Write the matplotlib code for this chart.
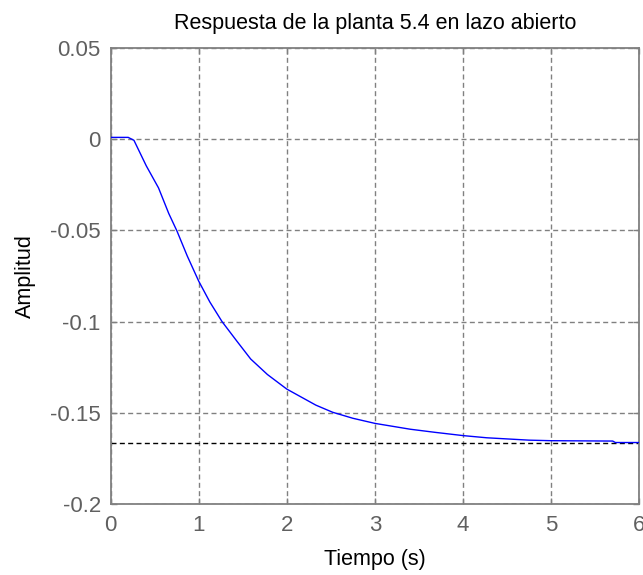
import matplotlib.pyplot as plt

plt.rcParams['font.family'] = ['Liberation Sans', 'DejaVu Sans']

# open-loop step response of plant 5.4
tiempo = [0.0, 0.1, 0.2, 0.265, 0.405, 0.544, 0.66, 0.753, 0.87, 1.0, 1.126, 1.265,
          1.43, 1.59, 1.78, 2.0, 2.15, 2.33, 2.52, 2.75, 3.0, 3.4, 3.68, 4.0,
          4.27, 4.75, 5.0, 5.7, 5.73, 6.0]
amplitud = [0.001, 0.001, 0.001, -0.0006, -0.0146, -0.0267, -0.0407, -0.0503,
            -0.064, -0.0778, -0.0892, -0.1, -0.1105, -0.1205, -0.129, -0.137, -0.141,
            -0.1458, -0.1497, -0.153, -0.1558, -0.159, -0.1607, -0.1625, -0.1637,
            -0.165, -0.1653, -0.1655, -0.1663, -0.1663]
valor_final = -0.1663

xticks = [0, 1, 2, 3, 4, 5, 6]
yticks = [-0.2, -0.15, -0.1, -0.05, 0, 0.05]
ytick_labels = ['-0.2', '-0.15', '-0.1', '-0.05', '0', '0.05']

fig = plt.figure(figsize=(6.43, 5.75), dpi=100)
ax = fig.add_axes([0.172, 0.1235, 0.822, 0.793])

ax.plot([0, 6], [valor_final, valor_final], color='black', lw=1.0,
        linestyle=(0, (3.6, 2.4)), zorder=2)
ax.plot(tiempo, amplitud, color='#0000ff', lw=1.0, zorder=3)

ax.set_xlim(0, 6)
ax.set_ylim(-0.2, 0.05)
ax.set_xticks(xticks)
ax.set_yticks(yticks)
ax.set_yticklabels(ytick_labels)
ax.grid(True, color='#808080', lw=1.0, linestyle=(0, (3.6, 2.4)))
ax.set_axisbelow(True)

for s in ax.spines.values():
    s.set_color('#808080')
    s.set_linewidth(1.3)
ax.tick_params(direction='in', length=4, width=1, color='#808080',
               top=True, right=True, labelsize=16, labelcolor='#606060')
ax.tick_params(axis='x', pad=8)
ax.tick_params(axis='y', pad=7)

ax.set_title('Respuesta de la planta 5.4 en lazo abierto', fontsize=15.5, pad=14)
ax.set_xlabel('Tiempo (s)', fontsize=15.5, labelpad=9)
ax.set_ylabel('Amplitud', fontsize=15.5, labelpad=10)

fig.savefig('out.png', dpi=100)
